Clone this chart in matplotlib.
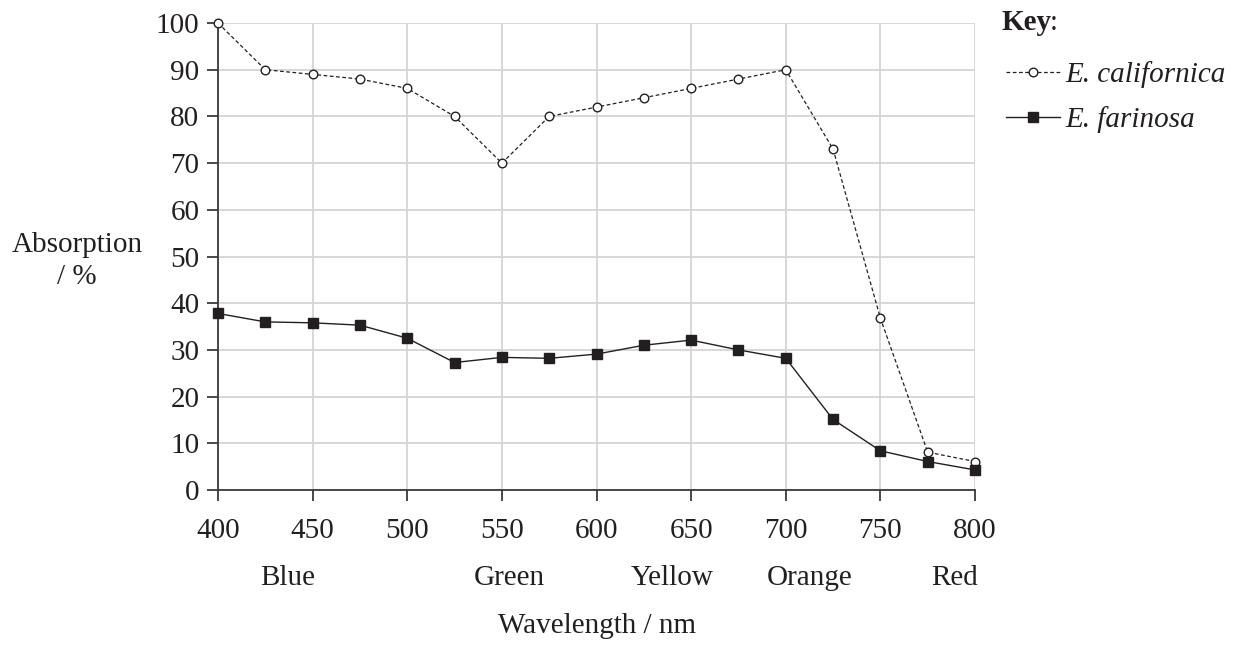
import matplotlib
matplotlib.use("Agg")
import matplotlib.pyplot as plt

wavelength = [400, 425, 450, 475, 500, 525, 550, 575, 600, 625, 650, 675, 700, 725, 750, 775, 800]
californica = [100, 90, 89, 88, 86, 80, 70, 80, 82, 84, 86, 88, 90, 73, 36.8, 8.1, 6.1]
farinosa = [37.8, 36.0, 35.8, 35.3, 32.5, 27.3, 28.4, 28.2, 29.1, 31.0, 32.1, 30.0, 28.2, 15.1, 8.4, 6.1, 4.3]
colour_names = ["Blue", "Green", "Yellow", "Orange", "Red"]
colour_pos = [437, 554, 640, 712.5, 789]

plt.rcParams['font.family'] = ['Liberation Serif', 'DejaVu Serif']
FS = 21

fig = plt.figure(figsize=(12.43, 6.45), dpi=100)
ax = fig.add_axes([0.1754, 0.2403, 0.609, 0.7240])

gc = '#d4d4d4'
ac = '#3a3a3a'
tc = '#231f20'
ax.set_xlim(400, 800)
ax.set_ylim(0, 100)
ax.set_xticks(range(400, 801, 50))
ax.set_yticks(range(0, 101, 10))
ax.grid(True, color=gc, linewidth=1.3)
ax.set_axisbelow(True)
for s in ['top', 'right']:
    ax.spines[s].set_visible(False)
for s in ['left', 'bottom']:
    ax.spines[s].set_color(ac)
    ax.spines[s].set_linewidth(1.3)
ax.tick_params(axis='both', direction='out', length=8, width=1.3, color=ac,
               labelsize=FS, labelcolor=tc)
ax.tick_params(axis='y', pad=5.5)
ax.tick_params(axis='x', pad=12)

l1, = ax.plot(wavelength, californica, linestyle=(0, (3, 2)), color=tc, linewidth=0.9,
              marker='o', markersize=6.2, markerfacecolor='white', markeredgecolor=tc,
              markeredgewidth=1.0, clip_on=False, zorder=3, label='E. californica')
l2, = ax.plot(wavelength, farinosa, linestyle='-', color=tc, linewidth=1.0,
              marker='s', markersize=7.2, markerfacecolor=tc, markeredgecolor=tc,
              clip_on=False, zorder=4, label='E. farinosa')

for name, pos in zip(colour_names, colour_pos):
    ax.text(pos, -0.188, name, transform=ax.get_xaxis_transform(), ha='center', va='center',
            fontsize=FS, color=tc)
ax.text(0.5, -0.291, 'Wavelength / nm', transform=ax.transAxes, ha='center', va='center',
        fontsize=FS, color=tc)

fig.text(0.062, 0.595, 'Absorption\n/ %', ha='center', va='center', fontsize=FS,
         color=tc, linespacing=1.3)

fig.text(0.806, 0.965, 'Key', ha='left', va='center', fontsize=FS, fontweight='bold', color=tc)
fig.text(0.8445, 0.965, ':', ha='left', va='center', fontsize=FS, color=tc)

leg = fig.legend(handles=[l1, l2], loc='upper left', bbox_to_anchor=(0.7975, 0.928),
                 frameon=False, handlelength=1.85, handletextpad=0.2, labelspacing=0.62,
                 prop={'size': FS, 'style': 'italic', 'family': 'Liberation Serif'}, borderpad=0)
for t in leg.get_texts():
    t.set_color(tc)

fig.savefig('out.png', dpi=100, facecolor='white')
